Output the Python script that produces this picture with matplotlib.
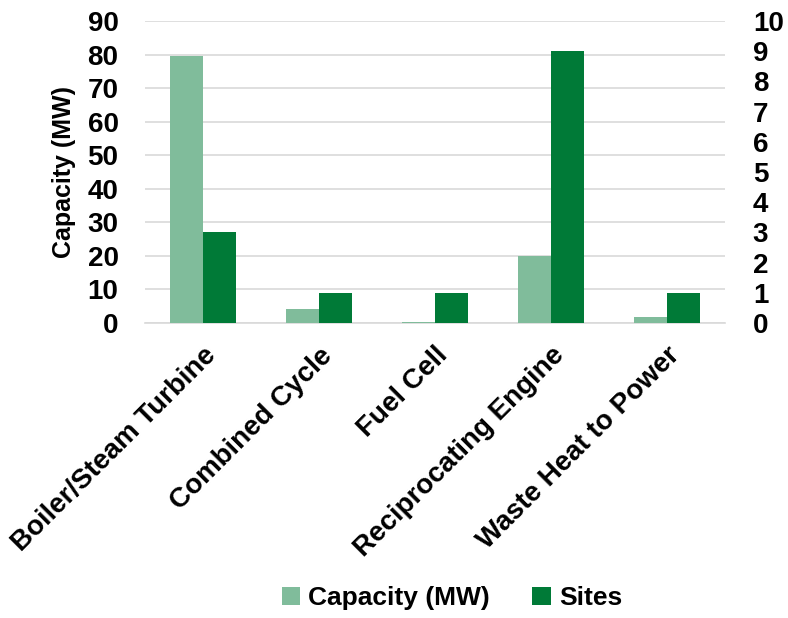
import matplotlib
matplotlib.use("Agg")
import matplotlib.pyplot as plt
import numpy as np

categories = ["Boiler/Steam Turbine", "Combined Cycle", "Fuel Cell",
              "Reciprocating Engine", "Waste Heat to Power"]
capacity_mw = [79.5, 4.3, 0.3, 20.0, 1.8]
sites = [3, 1, 1, 9, 1]
left_ticks = list(range(0, 91, 10))
right_ticks = list(range(0, 11, 1))

light = "#80BC9B"
dark = "#007A37"

plt.rcParams['font.family'] = ['Liberation Sans', 'DejaVu Sans']
plt.rcParams['font.weight'] = 'bold'
plt.rcParams['axes.labelweight'] = 'bold'

fig = plt.figure(figsize=(7.88, 6.18), dpi=100)
ax = fig.add_axes([145/788, 1 - 323/618, 580/788, 302/618])
ax2 = ax.twinx()

x = np.arange(len(categories))
w = 0.284
ax.bar(x - w/2, capacity_mw, width=w, color=light, zorder=3, label="Capacity (MW)")
ax2.bar(x + w/2, sites, width=w, color=dark, zorder=3, label="Sites")

ax.set_xlim(-0.5, len(categories) - 0.5)
ax.set_ylim(0, 90)
ax2.set_ylim(0, 10)
ax.set_yticks(left_ticks)
ax2.set_yticks(right_ticks)
ax.yaxis.grid(True, color="#D9D9D9", linewidth=1.2, zorder=0)
ax.set_axisbelow(True)

for a in (ax, ax2):
    for s in a.spines.values():
        s.set_visible(False)
    a.tick_params(length=0, labelsize=20)
ax.spines['bottom'].set_visible(True)
ax.spines['bottom'].set_color("#D9D9D9")
ax.spines['bottom'].set_linewidth(1.2)
ax.tick_params(axis='y', pad=19)
ax2.tick_params(axis='y', pad=20)

ax.set_xticks(x)
ax.set_xticklabels(categories, rotation=45, ha='right', rotation_mode='anchor', fontsize=20)
ax.tick_params(axis='x', pad=14)
ax.set_ylabel("Capacity (MW)", fontsize=18, labelpad=8)

h1, l1 = ax.get_legend_handles_labels()
h2, l2 = ax2.get_legend_handles_labels()
fig.legend(h1 + h2, l1 + l2, loc='center', bbox_to_anchor=(452/788, 1 - 598/618),
           ncol=2, frameon=False, fontsize=19, handlelength=0.7, handleheight=0.7,
           handletextpad=0.3, columnspacing=1.6)

fig.savefig("out.png", dpi=100)
